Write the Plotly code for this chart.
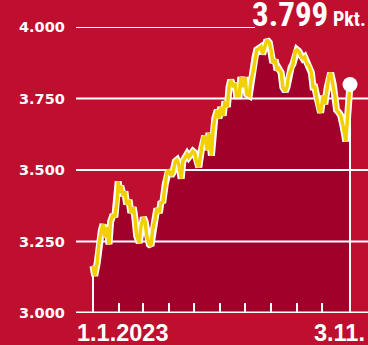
import pandas as pd
import plotly.graph_objects as go

# --- data -------------------------------------------------------------
start_date = "2023-01-01"
day_offsets = [
    0, 2, 5, 7, 10, 12, 14, 17, 19, 21, 24, 26, 29, 30, 32, 33, 36, 38, 40, 43,
    45, 48, 50, 52, 55, 57, 60, 62, 64, 67, 69, 71, 74, 76, 79, 81, 83, 86, 88, 90,
    93, 95, 98, 100, 102, 105, 107, 110, 112, 114, 117, 119, 121, 124, 126, 129,
    131, 133, 136, 138, 141, 143, 145, 148, 150, 152, 155, 157, 160, 162, 164, 167,
    169, 171, 174, 176, 179, 181, 183, 186, 188, 191, 193, 195, 198, 200, 202, 205,
    207, 210, 212, 214, 217, 219, 221, 224, 226, 229, 231, 233, 236, 238, 241, 243,
    245, 248, 250, 252, 255, 257, 260, 262, 264, 267, 269, 271, 274, 276, 279, 281,
    283, 286, 288, 290, 293, 295, 298, 300, 301, 302, 304, 305, 306,
]
index_points = [
    3165, 3130, 3175, 3240, 3290, 3310, 3265, 3300, 3240, 3320, 3345, 3335, 3400, 3460,
    3420, 3445, 3410, 3425, 3380, 3395, 3350, 3370, 3330, 3270, 3245, 3300, 3335, 3320,
    3270, 3240, 3235, 3290, 3330, 3365, 3350, 3390, 3385, 3450, 3490, 3500, 3480, 3490,
    3530, 3535, 3520, 3470, 3530, 3545, 3555, 3545, 3560, 3565, 3560, 3520, 3510, 3570,
    3610, 3620, 3570, 3630, 3550, 3640, 3680, 3710, 3680, 3720, 3690, 3740, 3720, 3790,
    3815, 3790, 3805, 3760, 3760, 3825, 3790, 3825, 3765, 3760, 3810, 3850, 3895, 3920,
    3925, 3930, 3905, 3940, 3955, 3945, 3920, 3875, 3885, 3850, 3855, 3840, 3790, 3775,
    3790, 3830, 3860, 3870, 3915, 3920, 3915, 3895, 3890, 3895, 3870, 3865, 3840, 3790,
    3790, 3750, 3710, 3700, 3760, 3730, 3790, 3830, 3840, 3800, 3760, 3710, 3700, 3690,
    3650, 3610, 3600, 3640, 3700, 3760, 3799,
]
y_ticks = [3000, 3250, 3500, 3750, 4000]
y_tick_labels = ["3.000", "3.250", "3.500", "3.750", "4.000"]
month_ticks = ["2023-02-01", "2023-03-01", "2023-04-01", "2023-05-01", "2023-06-01",
               "2023-07-01", "2023-08-01", "2023-09-01", "2023-10-01"]
x_labels = ["1.1.2023", "3.11."]
unit = "Pkt."

# --- colours / geometry ----------------------------------------------
BG = "#be0f2e"
FILL = "#a0002a"
YELLOW = "#f2cf00"
WHITE = "#ffffff"

W, H = 368, 345
L, T, B = 76, 27, 32          # plot margins in px
PLOT_W, PLOT_H = W - L, H - T - B
Y0, Y1 = 3000, 4000


def px_x(p):
    return (p - L) / PLOT_W


def px_y(p):
    return (H - B - p) / PLOT_H


dates = pd.Timestamp(start_date) + pd.to_timedelta(day_offsets, unit="D")
first, last = dates[0], dates[-1]
last_value = index_points[-1]

# horizontal scale: first point sits 17 px in, last point 18 px before the edge
span_days = (last - first).days
px_per_day = 257 / span_days
x_lo = first - pd.Timedelta(days=17 / px_per_day)
x_hi = last + pd.Timedelta(days=18 / px_per_day)
x_4000_end = first + pd.Timedelta(days=(255 - 93) / px_per_day)

fig = go.Figure()

# filled area with white edges down to the baseline
fig.add_trace(go.Scatter(
    x=[first] + list(dates) + [last],
    y=[Y0] + index_points + [Y0],
    mode="lines", fill="toself", fillcolor=FILL,
    line=dict(color=WHITE, width=2), hoverinfo="skip", showlegend=False,
))

# grid lines drawn over the area but under the index line
for v in y_ticks[1:]:
    end = x_4000_end if v == 4000 else x_hi
    fig.add_trace(go.Scatter(
        x=[x_lo, end], y=[v, v], mode="lines",
        line=dict(color=WHITE, width=2), hoverinfo="skip", showlegend=False,
    ))

# index line: white halo + yellow stroke
fig.add_trace(go.Scatter(
    x=dates, y=index_points, mode="lines",
    line=dict(color=WHITE, width=7, shape="linear"), hoverinfo="skip", showlegend=False,
))
fig.add_trace(go.Scatter(
    x=dates, y=index_points, mode="lines",
    line=dict(color=YELLOW, width=3.5, shape="linear"), hoverinfo="skip", showlegend=False,
))

# end-of-period dot
fig.add_trace(go.Scatter(
    x=[last], y=[last_value], mode="markers",
    marker=dict(color=WHITE, size=15, line=dict(width=0)),
    hoverinfo="skip", showlegend=False,
))

# baseline
fig.add_shape(type="line", xref="paper", yref="y", x0=0, x1=1, y0=Y0, y1=Y0,
              line=dict(color=WHITE, width=3), layer="above")

annotations = []
for v, lab in zip(y_ticks, y_tick_labels):
    annotations.append(dict(
        x=px_x(67), xref="paper", y=v, yref="y", xanchor="right", yanchor="middle",
        text=lab, showarrow=False,
        font=dict(family="DejaVu Sans", size=14.5, color=WHITE, weight="bold"),
    ))

label_font = dict(family="Liberation Sans, Arial, sans-serif", size=23.5,
                  color=WHITE, weight="bold")
annotations.append(dict(x=px_x(75), xref="paper", y=px_y(318), yref="paper",
                        xanchor="left", yanchor="top", text=x_labels[0],
                        showarrow=False, font=label_font))
annotations.append(dict(x=px_x(312), xref="paper", y=px_y(318), yref="paper",
                        xanchor="left", yanchor="top", text=x_labels[1],
                        showarrow=False, font=label_font))

headline = f"{last_value:,}".replace(",", ".")
annotations.append(dict(
    x=px_x(368), xref="paper", y=px_y(36), yref="paper",
    xanchor="right", yanchor="bottom", showarrow=False,
    text=(f"<span style='font-stretch:extra-condensed'>{headline}</span>"
          f"<span style='font-size:20px;font-stretch:extra-condensed'> {unit}</span>"),
    font=dict(family="Noto Sans ExtraCondensed, Noto Sans Condensed, Roboto Condensed, "
                     "Liberation Sans Narrow, Noto Sans",
              size=33, color=WHITE, weight="bold"),
))

fig.update_layout(
    width=W, height=H, autosize=False,
    margin=dict(l=L, r=0, t=T, b=B, pad=0),
    paper_bgcolor=BG, plot_bgcolor=BG,
    annotations=annotations,
    xaxis=dict(type="date", range=[x_lo, x_hi], showgrid=False, zeroline=False,
               showline=False, showticklabels=False, tickvals=month_ticks,
               ticks="inside", ticklen=10, tickwidth=2, tickcolor=WHITE),
    yaxis=dict(range=[Y0, Y1], showgrid=False, zeroline=False, showline=False,
               showticklabels=False, ticks=""),
)

fig.write_html("out.html", include_plotlyjs=True, config={"displayModeBar": False})
